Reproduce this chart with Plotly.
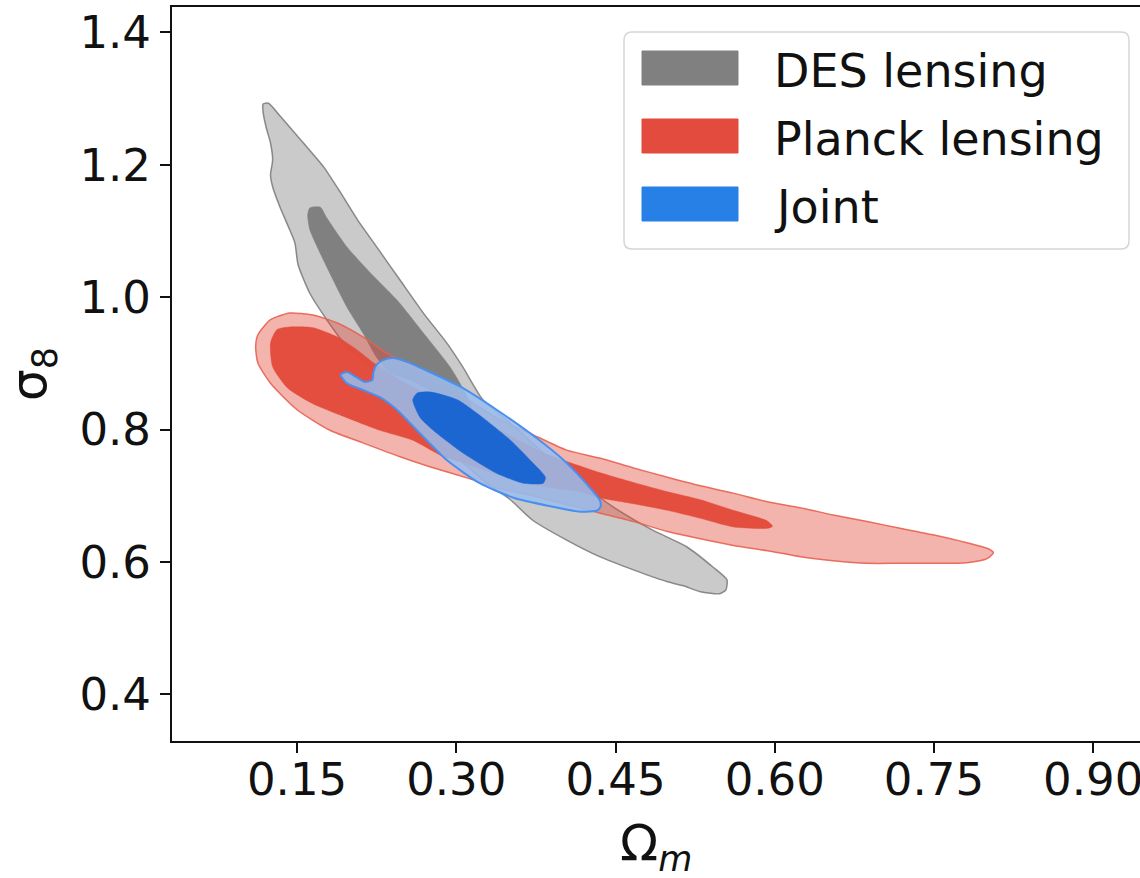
import plotly.graph_objects as go

# Credible-region boundaries in the (Omega_m, sigma_8) plane: outer = 95%, inner = 68%
des_outer_om = [0.118, 0.123, 0.134, 0.156, 0.175, 0.191, 0.207, 0.225, 0.247, 0.269,
                0.291, 0.306, 0.325, 0.351, 0.379, 0.410, 0.448, 0.485, 0.517, 0.542,
                0.555, 0.554, 0.548, 0.530, 0.514, 0.499, 0.467, 0.435, 0.404, 0.372,
                0.351, 0.329, 0.306, 0.278, 0.256, 0.238, 0.219, 0.197, 0.178, 0.162,
                0.151, 0.148, 0.142, 0.134, 0.127, 0.125, 0.127, 0.125, 0.121, 0.118]
des_outer_s8 = [1.292, 1.293, 1.274, 1.233, 1.197, 1.158, 1.117, 1.076, 1.026, 0.976,
                0.931, 0.895, 0.845, 0.810, 0.769, 0.728, 0.683, 0.648, 0.623, 0.592,
                0.573, 0.558, 0.552, 0.555, 0.564, 0.570, 0.588, 0.608, 0.633, 0.663,
                0.694, 0.719, 0.750, 0.784, 0.815, 0.849, 0.895, 0.925, 0.966, 1.006,
                1.049, 1.082, 1.106, 1.136, 1.167, 1.185, 1.207, 1.233, 1.256, 1.280]

des_inner_om = [0.162, 0.172, 0.178, 0.197, 0.219, 0.244, 0.269, 0.294, 0.308, 0.315,
                0.311, 0.299, 0.275, 0.252, 0.238, 0.225, 0.212, 0.197, 0.184, 0.169,
                0.162, 0.160]
des_inner_s8 = [1.135, 1.136, 1.120, 1.076, 1.037, 0.996, 0.946, 0.895, 0.857, 0.830,
                0.815, 0.827, 0.860, 0.878, 0.885, 0.909, 0.946, 0.985, 1.026, 1.076,
                1.102, 1.124]

planck_outer_om = [0.111, 0.113, 0.125, 0.143, 0.165, 0.188, 0.212, 0.235, 0.263, 0.301,
                   0.338, 0.370, 0.404, 0.435, 0.467, 0.499, 0.530, 0.561, 0.593, 0.624,
                   0.655, 0.687, 0.718, 0.749, 0.781, 0.801, 0.806, 0.800, 0.781, 0.749,
                   0.718, 0.687, 0.655, 0.624, 0.593, 0.561, 0.530, 0.499, 0.467, 0.435,
                   0.401, 0.372, 0.338, 0.310, 0.275, 0.247, 0.212, 0.181, 0.150, 0.125,
                   0.113]
planck_outer_s8 = [0.925, 0.943, 0.966, 0.976, 0.973, 0.961, 0.940, 0.915, 0.890, 0.855,
                   0.818, 0.794, 0.769, 0.757, 0.742, 0.728, 0.715, 0.704, 0.691, 0.682,
                   0.671, 0.661, 0.651, 0.641, 0.629, 0.620, 0.614, 0.605, 0.599, 0.598,
                   0.598, 0.598, 0.602, 0.608, 0.617, 0.625, 0.635, 0.646, 0.661, 0.674,
                   0.688, 0.700, 0.712, 0.727, 0.744, 0.759, 0.780, 0.799, 0.830, 0.870,
                   0.901]

planck_inner_om = [0.125, 0.131, 0.143, 0.165, 0.188, 0.207, 0.222, 0.247, 0.294, 0.341,
                   0.382, 0.435, 0.467, 0.499, 0.530, 0.561, 0.593, 0.598, 0.594, 0.561,
                   0.530, 0.499, 0.467, 0.435, 0.419, 0.379, 0.341, 0.306, 0.288, 0.259,
                   0.228, 0.197, 0.165, 0.141, 0.127]
planck_inner_s8 = [0.931, 0.951, 0.955, 0.954, 0.940, 0.920, 0.901, 0.875, 0.836, 0.799,
                   0.765, 0.735, 0.720, 0.706, 0.694, 0.678, 0.662, 0.654, 0.651, 0.653,
                   0.666, 0.678, 0.688, 0.697, 0.705, 0.715, 0.731, 0.750, 0.759, 0.784,
                   0.799, 0.818, 0.839, 0.863, 0.895]

joint_outer_om = [0.191, 0.197, 0.207, 0.214, 0.221, 0.222, 0.225, 0.231, 0.240, 0.254,
                  0.275, 0.306, 0.338, 0.370, 0.401, 0.426, 0.435, 0.436, 0.433, 0.417,
                  0.386, 0.354, 0.322, 0.291, 0.266, 0.244, 0.228, 0.212, 0.197]
joint_outer_s8 = [0.883, 0.887, 0.878, 0.872, 0.875, 0.887, 0.898, 0.905, 0.908, 0.902,
                  0.887, 0.863, 0.830, 0.794, 0.754, 0.712, 0.694, 0.684, 0.678, 0.676,
                  0.685, 0.697, 0.719, 0.754, 0.794, 0.830, 0.849, 0.860, 0.870]

joint_inner_om = [0.259, 0.263, 0.275, 0.301, 0.325, 0.351, 0.372, 0.384, 0.382, 0.363,
                  0.338, 0.306, 0.282, 0.266]
joint_inner_s8 = [0.845, 0.855, 0.857, 0.845, 0.818, 0.784, 0.750, 0.728, 0.719, 0.719,
                  0.734, 0.765, 0.794, 0.818]

legend_labels = ["DES lensing", "Planck lensing", "Joint"]
legend_colors = ["#808080", "#e24b3d", "#2680e6"]

xtick_vals = [0.15, 0.30, 0.45, 0.60, 0.75, 0.90]
xtick_text = ["0.15", "0.30", "0.45", "0.60", "0.75", "0.90"]
ytick_vals = [0.4, 0.6, 0.8, 1.0, 1.2, 1.4]
ytick_text = ["0.4", "0.6", "0.8", "1.0", "1.2", "1.4"]

FONT = "DejaVu Sans"
W, H = 1140, 878
ML, MR, MT, MB = 172, 0, 7, 137
PW, PH = W - ML - MR, H - MT - MB


def region(om, s8, fill, line_color=None, line_width=0.0):
    return go.Scatter(
        x=om + om[:1], y=s8 + s8[:1], mode="lines", fill="toself",
        fillcolor=fill,
        line=dict(color=line_color or fill, width=line_width,
                  shape="spline", smoothing=0.6),
        hoverinfo="skip", showlegend=False,
    )


fig = go.Figure()
fig.add_trace(region(des_outer_om, des_outer_s8, "rgba(128,128,128,0.42)",
                     "rgba(120,120,120,0.85)", 1.5))
fig.add_trace(region(des_inner_om, des_inner_s8, "#808080", "#808080", 0.5))
fig.add_trace(region(planck_outer_om, planck_outer_s8, "rgba(226,74,59,0.41)",
                     "rgba(232,96,80,0.9)", 1.5))
fig.add_trace(region(planck_inner_om, planck_inner_s8, "rgba(226,74,59,0.97)",
                     "rgba(226,74,59,0.97)", 0.5))
fig.add_trace(region(joint_outer_om, joint_outer_s8, "rgba(150,190,240,0.85)",
                     "#4a8ff0", 2.0))
fig.add_trace(region(joint_inner_om, joint_inner_s8, "#1c66d2", "#1c66d2", 0.5))


def px_x(px):
    return (px - ML) / PW


def px_y(py):
    return (H - MB - py) / PH


# legend frame with rounded corners
x0, x1 = px_x(624), px_x(1129)
y0, y1 = px_y(249), px_y(32)
rx, ry = 8 / PW, 8 / PH
frame = (f"M{x0 + rx},{y1} L{x1 - rx},{y1} Q{x1},{y1} {x1},{y1 - ry} "
         f"L{x1},{y0 + ry} Q{x1},{y0} {x1 - rx},{y0} L{x0 + rx},{y0} "
         f"Q{x0},{y0} {x0},{y0 + ry} L{x0},{y1 - ry} Q{x0},{y1} {x0 + rx},{y1} Z")
shapes = [dict(type="path", xref="paper", yref="paper", path=frame,
               fillcolor="white", line=dict(color="#d6d6d6", width=1.5), layer="above")]
annotations = []
row_centers = [68, 136, 204]
for label, color, cy in zip(legend_labels, legend_colors, row_centers):
    shapes.append(dict(type="rect", xref="paper", yref="paper",
                       x0=px_x(642), x1=px_x(738), y0=px_y(cy + 17), y1=px_y(cy - 17),
                       fillcolor=color, line=dict(color=color, width=1), layer="above"))
    annotations.append(dict(xref="paper", yref="paper", x=px_x(772), y=px_y(cy + 3),
                            xanchor="left", yanchor="middle", showarrow=False,
                            text=label, font=dict(family=FONT, size=46, color="#111111")))

# x-axis title placed below the tick labels
annotations.append(dict(xref="paper", yref="paper", x=0.5, y=px_y(846),
                        xanchor="center", yanchor="middle", showarrow=False,
                        text="Ω<sub><i>m</i></sub>",
                        font=dict(family=FONT, size=50, color="#111111")))

fig.update_layout(
    width=W, height=H,
    margin=dict(l=ML, r=MR, t=MT, b=MB, autoexpand=False),
    paper_bgcolor="white", plot_bgcolor="white",
    font=dict(family=FONT, color="#111111"),
    shapes=shapes, annotations=annotations,
    showlegend=False,
)
fig.update_xaxes(
    range=[0.0322, 0.9441], tickvals=xtick_vals, ticktext=xtick_text,
    ticks="outside", ticklen=10, tickwidth=1.5, tickcolor="#111111",
    tickfont=dict(family=FONT, size=45, color="#111111"),
    ticklabeloverflow="allow", ticklabelstandoff=-12,
    showline=True, linecolor="#111111", linewidth=2, mirror=True,
    showgrid=False, zeroline=False,
)
fig.update_yaxes(
    range=[0.3295, 1.4385], tickvals=ytick_vals, ticktext=ytick_text,
    ticks="outside", ticklen=10, tickwidth=1.5, tickcolor="#111111",
    tickfont=dict(family=FONT, size=45, color="#111111"),
    showline=True, linecolor="#111111", linewidth=2, mirror=False,
    showgrid=False, zeroline=False,
    title=dict(text="σ<sub>8</sub>", font=dict(family=FONT, size=50), standoff=22),
)

fig.write_html("out.html")
